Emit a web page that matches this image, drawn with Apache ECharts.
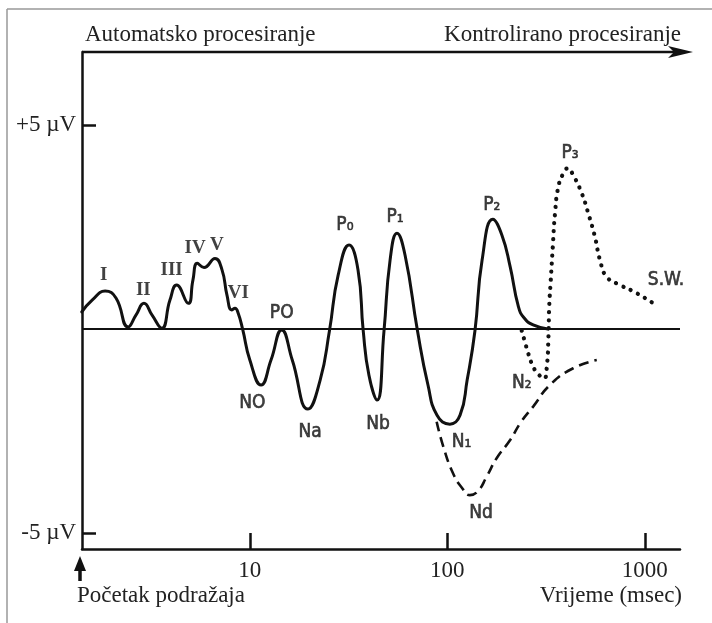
<!DOCTYPE html>
<html>
<head>
<meta charset="utf-8">
<script src="https://cdn.jsdelivr.net/npm/echarts@6/dist/echarts.min.js"></script>
<style>
html,body{margin:0;padding:0;background:#fff;}
#chart{width:712px;height:623px;}
</style>
</head>
<body>
<div id="chart"></div>
<script>
// ---- data (time in msec on log scale, amplitude in µV) ----
const xTicks = [10, 100, 1000];
const xTickLabels = ['10', '100', '1000'];
const yTicks = [-5, 5];
const yTickLabels = ['-5 µV', '+5 µV'];

// early + middle latency components, N1, P2 (solid)
const solidMs = [1.41, 1.59, 1.85, 2.10, 2.42, 2.65, 2.91, 3.20, 3.58, 3.94, 4.26, 4.88, 5.15, 5.42, 5.86, 6.66, 7.23, 7.66, 8.09, 8.41, 8.74, 9.20, 10.0, 11.4, 12.8, 14.5, 16.4, 19.7, 22.7, 25.3, 28.0, 31.8, 35.3, 37.5, 40.1, 44.1, 47.8, 51.3, 55.6, 61.1, 70.6, 79.8, 88.7, 103, 116, 126, 138, 150, 170, 189, 208, 229, 245, 272, 323];
const solidUv = [0.42, 0.71, 0.93, 0.76, 0.05, 0.34, 0.63, 0.34, 0.02, 0.71, 1.08, 0.63, 1.20, 1.61, 1.51, 1.73, 1.45, 0.83, 0.47, 0.51, 0.38, -0.01, -0.76, -1.37, -0.76, -0.02, -0.76, -1.96, -1.25, -0.04, 1.32, 2.06, 1.45, -0.04, -1.13, -1.74, -0.04, 1.69, 2.35, 1.81, -0.04, -1.37, -2.11, -2.33, -2.11, -1.25, -0.04, 1.69, 2.69, 2.30, 1.53, 0.55, 0.27, 0.10, 0.0];

// N2 - P3 - slow wave (dotted)
const dotMs = [238, 247, 257, 272, 288, 309, 319, 325, 328, 334, 342, 351, 365, 387, 407, 434, 479, 517, 559, 593, 641, 749, 910, 1170];
const dotUv = [-0.04, -0.31, -0.60, -0.92, -1.10, -1.21, -0.92, -0.19, 0.55, 1.20, 2.02, 2.84, 3.49, 3.82, 3.94, 3.77, 3.33, 2.84, 2.26, 1.69, 1.28, 1.08, 0.88, 0.55];

// Nd (dashed)
const dashMs = [88.3, 95.4, 107, 119, 130, 143, 158, 178, 208, 236, 272, 331, 434, 571];
const dashUv = [-2.27, -2.88, -3.54, -3.90, -4.07, -3.97, -3.62, -3.16, -2.72, -2.28, -1.90, -1.37, -0.96, -0.76];

// component names
const romanNames = ['I', 'II', 'III', 'IV', 'V', 'VI'];
const romanMs = [1.82, 2.89, 4.02, 5.28, 6.80, 8.74];
const romanUv = [1.32, 0.96, 1.45, 1.98, 2.06, 0.88];

const compNames = ['NO', 'PO', 'Na', 'P₀', 'Nb', 'P₁', 'N₁', 'P₂', 'N₂', 'Nd', 'P₃', 'S.W.'];
const compMs = [10.3, 14.5, 20.2, 30.3, 44.6, 54.3, 118, 168, 238, 148, 418, 1280];
const compUv = [-1.81, 0.38, -2.52, 2.55, -2.33, 2.75, -2.76, 3.04, -1.33, -4.51, 4.31, 1.20];

const zip = (a, b) => a.map((v, i) => [v, b[i]]);
const zipNamed = (n, a, b) => n.map((name, i) => ({ name: name, value: [a[i], b[i]] }));

const serif = "'Liberation Serif', 'Times New Roman', serif";
const hand = "'Liberation Sans Narrow', 'DejaVu Sans Condensed', 'DejaVu Sans', sans-serif";
const ink = '#111';

const chart = echarts.init(document.getElementById('chart'));
chart.setOption({
  animation: false,
  backgroundColor: '#fff',
  grid: { left: 82, right: 32, top: 52, bottom: 74 },
  xAxis: {
    type: 'log',
    logBase: 10,
    min: 1.413,
    max: 1507,
    axisLine: { show: true, onZero: false, lineStyle: { color: ink, width: 2.5 } },
    axisTick: { show: true, inside: true, length: 16, customValues: xTicks, lineStyle: { color: ink, width: 2.5 } },
    axisLabel: {
      customValues: xTicks,
      formatter: (v) => xTickLabels[xTicks.indexOf(Math.round(v))] || '',
      fontFamily: serif, fontSize: 23, color: '#222', margin: 10
    },
    splitLine: { show: false },
    minorTick: { show: false }
  },
  yAxis: {
    type: 'value',
    min: -5.39,
    max: 6.79,
    axisLine: { show: true, onZero: false, lineStyle: { color: ink, width: 2.5 } },
    axisTick: { show: true, inside: true, length: 14, customValues: yTicks, lineStyle: { color: ink, width: 2.5 } },
    axisLabel: {
      customValues: yTicks,
      formatter: (v) => yTickLabels[yTicks.indexOf(Math.round(v))] || '',
      fontFamily: serif, fontSize: 23, color: '#222', margin: 6
    },
    splitLine: { show: false }
  },
  series: [
    {
      type: 'line', name: 'solid', data: zip(solidMs, solidUv),
      showSymbol: false, smooth: 0.5,
      lineStyle: { color: ink, width: 3, cap: 'round', join: 'round' },
      markLine: {
        silent: true, symbol: 'none', label: { show: false },
        lineStyle: { color: ink, width: 2.2, type: 'solid' },
        data: [{ yAxis: 0 }]
      },
      z: 3
    },
    {
      type: 'line', name: 'dotted', data: zip(dotMs, dotUv),
      showSymbol: false, smooth: 0.5,
      lineStyle: { color: ink, width: 4.2, type: [0.1, 8], cap: 'round' },
      z: 3
    },
    {
      type: 'line', name: 'dashed', data: zip(dashMs, dashUv),
      showSymbol: false, smooth: 0.5,
      lineStyle: { color: ink, width: 2.6, type: [10, 6] },
      z: 3
    },
    {
      type: 'scatter', name: 'roman', data: zipNamed(romanNames, romanMs, romanUv),
      symbolSize: 0,
      label: {
        show: true, position: 'inside', formatter: (p) => p.name,
        fontFamily: serif, fontWeight: 'bold', fontSize: 19, color: ink
      },
      z: 4
    },
    {
      type: 'scatter', name: 'components', data: zipNamed(compNames, compMs, compUv),
      symbolSize: 0,
      label: {
        show: true, position: 'inside', formatter: (p) => p.name,
        fontFamily: hand, fontSize: 19, color: ink,
        textBorderColor: ink, textBorderWidth: 0.6
      },
      z: 4
    }
  ],
  graphic: [
    // outer frame (top + left)
    { type: 'line', shape: { x1: 7, y1: 9, x2: 712, y2: 9 }, style: { stroke: '#999', lineWidth: 1.5 } },
    { type: 'line', shape: { x1: 7, y1: 9, x2: 7, y2: 623 }, style: { stroke: '#999', lineWidth: 1.5 } },
    // top processing arrow
    { type: 'line', shape: { x1: 82, y1: 52, x2: 680, y2: 52 }, style: { stroke: ink, lineWidth: 2.5 } },
    { type: 'polygon', shape: { points: [[668, 46], [693, 52], [668, 58], [674, 52]] }, style: { fill: ink } },
    // stimulus onset arrow
    { type: 'polygon', shape: { points: [[80, 556], [86, 571], [74, 571]] }, style: { fill: ink } },
    { type: 'line', shape: { x1: 80, y1: 566, x2: 80, y2: 581 }, style: { stroke: ink, lineWidth: 3.5 } },
    // texts
    { type: 'text', style: { text: 'Automatsko procesiranje', x: 85, y: 35, font: '23px ' + serif, fill: '#222', align: 'left', verticalAlign: 'middle', textAlign: 'left', textVerticalAlign: 'middle' } },
    { type: 'text', style: { text: 'Kontrolirano procesiranje', x: 681, y: 35, font: '23px ' + serif, fill: '#222', align: 'right', verticalAlign: 'middle', textAlign: 'right', textVerticalAlign: 'middle' } },
    { type: 'text', style: { text: 'Početak podražaja', x: 77, y: 596, font: '23px ' + serif, fill: '#222', align: 'left', verticalAlign: 'middle', textAlign: 'left', textVerticalAlign: 'middle' } },
    { type: 'text', style: { text: 'Vrijeme (msec)', x: 682, y: 596, font: '23px ' + serif, fill: '#222', align: 'right', verticalAlign: 'middle', textAlign: 'right', textVerticalAlign: 'middle' } }
  ]
});
</script>
</body>
</html>
